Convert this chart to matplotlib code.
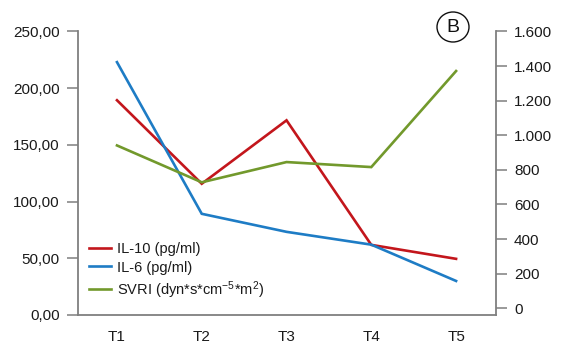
import matplotlib
matplotlib.use("Agg")
import matplotlib.pyplot as plt
from matplotlib.patches import Ellipse

plt.rcParams['font.family'] = ['Liberation Sans', 'DejaVu Sans']
plt.rcParams['mathtext.fontset'] = 'custom'
plt.rcParams['mathtext.rm'] = 'Liberation Sans'
plt.rcParams['mathtext.it'] = 'Liberation Sans'

# Time points and measured series
timepoints = ["T1", "T2", "T3", "T4", "T5"]
il10 = [189.3, 115.7, 171.6, 61.8, 49.5]      # pg/ml, left axis
il6 = [222.9, 89.2, 73.3, 62.0, 30.0]         # pg/ml, left axis
svri = [941, 728, 845, 816, 1371]             # dyn*s*cm-5*m2, right axis

left_ticks = [0, 50, 100, 150, 200, 250]
right_ticks = [0, 200, 400, 600, 800, 1000, 1200, 1400, 1600]

series_labels = ["IL-10 (pg/ml)", "IL-6 (pg/ml)",
                 r"SVRI (dyn*s*cm$^{\mathregular{-5}}$*m$^{\mathregular{2}}$)"]

RED = "#C3161C"
BLUE = "#1E7CC5"
GREEN = "#72992C"
SPINE = "#7F7F7F"
TEXT = "#1a1a1a"

fig = plt.figure(figsize=(5.61, 3.45), dpi=100)
ax = fig.add_axes([0.139, 0.087, 0.745, 0.822])
ax2 = ax.twinx()

x = list(range(len(timepoints)))
l1, = ax.plot(x, il10, color=RED, lw=1.9, solid_joinstyle='miter')
l2, = ax.plot(x, il6, color=BLUE, lw=1.9, solid_joinstyle='miter')
l3, = ax2.plot(x, svri, color=GREEN, lw=1.9, solid_joinstyle='miter')

ax.set_xlim(-0.46, 4.47)
ax.set_ylim(0, 250)
ax2.set_ylim(-38.6, 1600)

ax.set_yticks(left_ticks)
ax.set_yticklabels([f"{v:.2f}".replace(".", ",") for v in left_ticks])
ax2.set_yticks(right_ticks)
ax2.set_yticklabels([f"{v:,}".replace(",", ".") for v in right_ticks])
ax.set_xticks(x)
ax.set_xticklabels(timepoints)

for a in (ax, ax2):
    a.spines['top'].set_visible(False)
    for s in ('left', 'right', 'bottom'):
        a.spines[s].set_color(SPINE)
        a.spines[s].set_linewidth(1.3)
ax.spines['right'].set_visible(False)
ax2.spines['left'].set_visible(False)
ax2.spines['bottom'].set_visible(False)

ax.tick_params(axis='y', length=8, width=1.1, color=SPINE, pad=5,
               labelsize=11, labelcolor=TEXT)
ax2.tick_params(axis='y', length=8, width=1.1, color=SPINE, pad=5,
                labelsize=11, labelcolor=TEXT)
ax.tick_params(axis='x', length=0, pad=11, labelsize=11, labelcolor=TEXT)

leg = ax.legend([l1, l2, l3], series_labels, loc='lower left',
                bbox_to_anchor=(0.005, 0.02), frameon=False, fontsize=10.5,
                handlelength=1.5, handletextpad=0.4, labelspacing=0.3,
                borderaxespad=0.2)
for t in leg.get_texts():
    t.set_color(TEXT)

# Panel marker
fig.patches.append(Ellipse((453 / 561, 1 - 27 / 345), 32 / 561, 30 / 345,
                           transform=fig.transFigure, fill=False,
                           edgecolor="#111111", lw=1.0))
fig.text(453 / 561, 1 - 27.5 / 345, "B", ha='center', va='center',
         fontsize=14, color="#111111")

fig.savefig("out.png", dpi=100)
